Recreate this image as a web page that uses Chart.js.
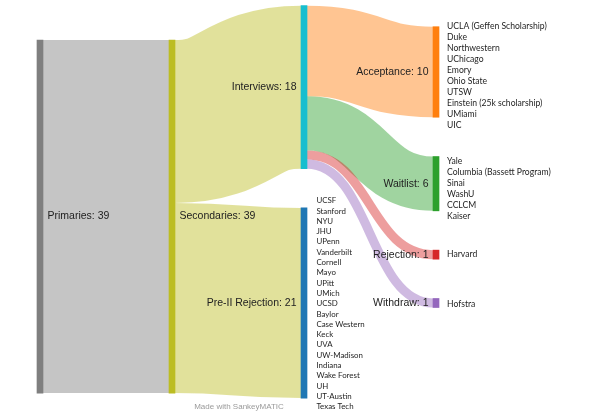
<!DOCTYPE html>
<html>
<head>
<meta charset="utf-8">
<script src="https://cdn.jsdelivr.net/npm/chart.js@4.4.1/dist/chart.umd.min.js"></script>
<style>
  html, body { margin: 0; padding: 0; background: #fff; }
  #wrap { width: 603px; height: 411px; position: relative; }
</style>
</head>
<body>
<div id="wrap"><canvas id="chart"></canvas></div>
<script>
/* ------------------------------------------------------------------ */
/*  Data                                                               */
/* ------------------------------------------------------------------ */

var NODE_NAMES = ["Primaries", "Secondaries", "Interviews", "Pre-II Rejection",
                  "Acceptance", "Waitlist", "Rejection", "Withdraw"];

var FLOW_SOURCE = ["Primaries", "Secondaries", "Secondaries", "Interviews",
                   "Interviews", "Interviews", "Interviews"];
var FLOW_TARGET = ["Secondaries", "Interviews", "Pre-II Rejection", "Acceptance",
                   "Waitlist", "Rejection", "Withdraw"];
var FLOW_VALUES = [39, 18, 21, 10, 6, 1, 1];

var ACCEPTED = ["UCLA (Geffen Scholarship)", "Duke", "Northwestern", "UChicago", "Emory",
                "Ohio State", "UTSW", "Einstein (25k scholarship)", "UMiami", "UIC"];
var WAITLISTED = ["Yale", "Columbia (Bassett Program)", "Sinai", "WashU", "CCLCM", "Kaiser"];
var REJECTED = ["Harvard"];
var WITHDRAWN = ["Hofstra"];
var PRE_II = ["UCSF", "Stanford", "NYU", "JHU", "UPenn", "Vanderbilt", "Cornell", "Mayo",
              "UPitt", "UMich", "UCSD", "Baylor", "Case Western", "Keck", "UVA",
              "UW-Madison", "Indiana", "Wake Forest", "UH", "UT-Austin", "Texas Tech"];

/* ------------------------------------------------------------------ */
/*  Palette / layout                                                   */
/* ------------------------------------------------------------------ */

var COLORS = {
  "Primaries": "#7f7f7f",
  "Secondaries": "#bcbd22",
  "Interviews": "#17becf",
  "Pre-II Rejection": "#1f77b4",
  "Acceptance": "#ff7f0e",
  "Waitlist": "#2ca02c",
  "Rejection": "#d62728",
  "Withdraw": "#9467bd",
};
// which end of a flow gives it its colour
var FLOW_COLOR_FROM = ["source", "source", "source", "target", "target", "target", "target"];

// school lists set beside the outcome nodes
var LISTS = [
  { node: "Acceptance", items: ACCEPTED, lineH: 11.05, size: 8.6, dx: 8, dy: 3.8 },
  { node: "Waitlist", items: WAITLISTED, lineH: 11.05, size: 8.6, dx: 8, dy: 4.8 },
  { node: "Rejection", items: REJECTED, lineH: 11.05, size: 8.6, dx: 8, dy: 0 },
  { node: "Withdraw", items: WITHDRAWN, lineH: 11.05, size: 8.6, dx: 8, dy: 1.7 },
  { node: "Pre-II Rejection", items: PRE_II, lineH: 10.3, size: 7.9, dx: 9.4, dy: 0.7 },
];

var COL_TOP = [4.42, 4.42, 0.63, 2.95];   // in flow units
var NODE_GAP = 4.34;
var NODE_W = 6;
var LINK_ALPHA = 0.45;
var LABEL_FONT = '10.5px "Liberation Sans", Arial, sans-serif';
var LIST_FAMILY = 'Lato, "Open Sans", sans-serif';

/* ------------------------------------------------------------------ */
/*  Sankey layout                                                      */
/* ------------------------------------------------------------------ */

var nodes = {};
NODE_NAMES.forEach(function (n, i) {
  nodes[n] = { name: n, idx: i, col: 0, inV: 0, outV: 0, ins: [], outs: [] };
});
var links = FLOW_VALUES.map(function (v, i) {
  var l = { source: nodes[FLOW_SOURCE[i]], target: nodes[FLOW_TARGET[i]], value: v };
  l.color = COLORS[FLOW_COLOR_FROM[i] === "source" ? l.source.name : l.target.name];
  l.source.outs.push(l); l.target.ins.push(l);
  l.source.outV += v; l.target.inV += v;
  return l;
});

// column = longest path from a source
var changed = true;
while (changed) {
  changed = false;
  links.forEach(function (l) {
    if (l.target.col < l.source.col + 1) { l.target.col = l.source.col + 1; changed = true; }
  });
}

var cols = [];
NODE_NAMES.forEach(function (n) {
  var nd = nodes[n];
  nd.value = Math.max(nd.inV, nd.outV);
  (cols[nd.col] = cols[nd.col] || []).push(nd);
});
cols.forEach(function (list, c) {
  var y = COL_TOP[c];
  list.forEach(function (nd) { nd.y0 = y; nd.y1 = y + nd.value; y = nd.y1 + NODE_GAP; });
});
NODE_NAMES.forEach(function (n) {
  var nd = nodes[n], sy = nd.y0, ty = nd.y0;
  nd.outs.sort(function (a, b) { return a.target.y0 - b.target.y0; })
    .forEach(function (l) { l.sy = sy; sy += l.value; });
  nd.ins.sort(function (a, b) { return a.source.y0 - b.source.y0; })
    .forEach(function (l) { l.ty = ty; ty += l.value; });
});

/* ------------------------------------------------------------------ */
/*  Drawing                                                            */
/* ------------------------------------------------------------------ */

var sankeyPlugin = {
  id: "sankey",
  beforeDatasetsDraw: function (chart) {
    var ctx = chart.ctx, xs = chart.scales.x, ys = chart.scales.y;
    ctx.save();
    ctx.globalAlpha = LINK_ALPHA;
    links.forEach(function (l) {
      var x0 = xs.getPixelForValue(l.source.col) + NODE_W / 2;
      var x1 = xs.getPixelForValue(l.target.col) - NODE_W / 2;
      var y0 = ys.getPixelForValue(l.sy + l.value / 2);
      var y1 = ys.getPixelForValue(l.ty + l.value / 2);
      var w = Math.abs(ys.getPixelForValue(l.value) - ys.getPixelForValue(0));
      var xm = (x0 + x1) / 2;
      ctx.beginPath();
      ctx.moveTo(x0, y0);
      ctx.bezierCurveTo(xm, y0, xm, y1, x1, y1);
      ctx.strokeStyle = l.color;
      ctx.lineWidth = w;
      ctx.stroke();
    });
    ctx.restore();
  },
  afterDatasetsDraw: function (chart) {
    var ctx = chart.ctx, xs = chart.scales.x, ys = chart.scales.y;
    ctx.save();
    ctx.textBaseline = "middle";

    // node labels
    ctx.font = LABEL_FONT;
    ctx.fillStyle = "#222";
    NODE_NAMES.forEach(function (n) {
      var nd = nodes[n];
      var cx = xs.getPixelForValue(nd.col);
      var cy = ys.getPixelForValue((nd.y0 + nd.y1) / 2);
      var txt = nd.name + ": " + nd.value;
      if (nd.col < 2) {
        ctx.textAlign = "left";
        ctx.fillText(txt, cx + NODE_W / 2 + 4.5, cy);
      } else {
        ctx.textAlign = "right";
        ctx.fillText(txt, cx - NODE_W / 2 - 4.5, cy);
      }
    });

    // school lists
    ctx.fillStyle = "#1e1e1e";
    ctx.textAlign = "left";
    LISTS.forEach(function (L) {
      var nd = nodes[L.node];
      ctx.font = L.size + "px " + LIST_FAMILY;
      var cx = xs.getPixelForValue(nd.col) + NODE_W / 2 + L.dx;
      var cy = ys.getPixelForValue((nd.y0 + nd.y1) / 2) + L.dy;
      var first = cy - (L.items.length - 1) / 2 * L.lineH;
      L.items.forEach(function (s, i) { ctx.fillText(s, cx, first + i * L.lineH); });
    });

    // credit
    ctx.font = '8px "Liberation Sans", Arial, sans-serif';
    ctx.fillStyle = "#9a9a9a";
    ctx.textAlign = "center";
    ctx.fillText("Made with SankeyMATIC", 239, 406.5);
    ctx.restore();
  },
};

new Chart(document.getElementById("chart"), {
  type: "bar",
  data: {
    datasets: [{
      data: NODE_NAMES.map(function (n) {
        return { x: nodes[n].col, y: [nodes[n].y0, nodes[n].y1] };
      }),
      backgroundColor: NODE_NAMES.map(function (n) { return COLORS[n]; }),
      borderWidth: 0,
      barThickness: NODE_W,
    }],
  },
  options: {
    responsive: true,
    maintainAspectRatio: false,
    animation: false,
    layout: { padding: 0 },
    plugins: { legend: { display: false }, tooltip: { enabled: false } },
    scales: {
      x: { type: "linear", min: -0.303, max: 4.265, offset: false, display: false },
      y: { type: "linear", min: 0, max: 45.4, reverse: true, display: false },
    },
  },
  plugins: [sankeyPlugin],
});
</script>
</body>
</html>
